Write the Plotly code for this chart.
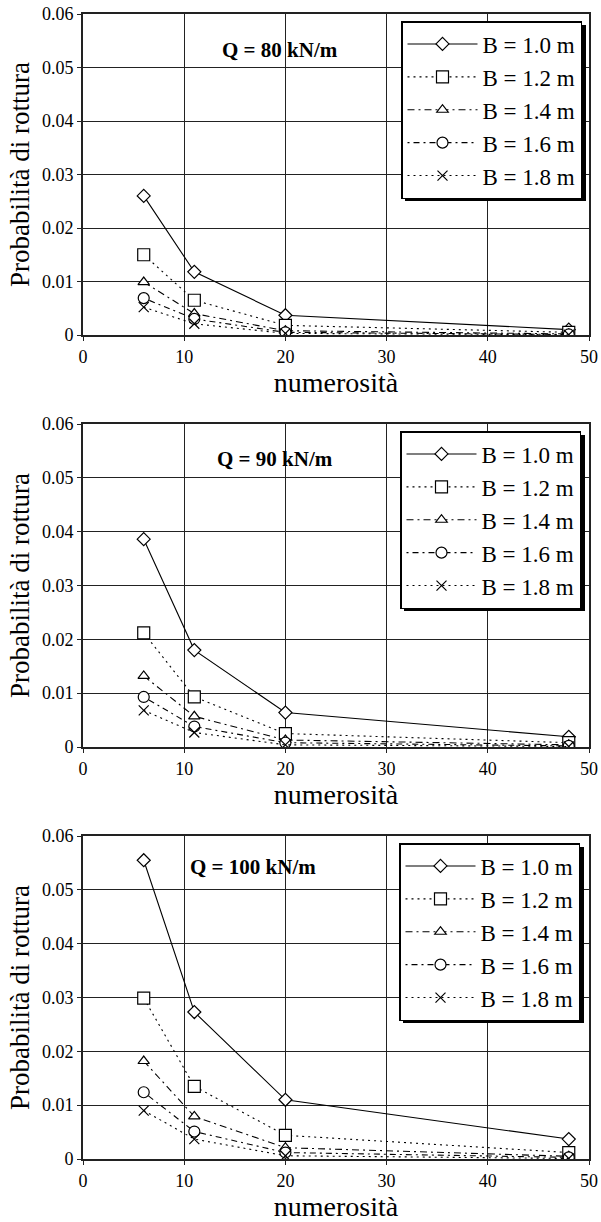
import plotly.graph_objects as go

# ---------------- data ----------------
numerosita = [6, 11, 20, 48]
series_names = ["B = 1.0 m", "B = 1.2 m", "B = 1.4 m", "B = 1.6 m", "B = 1.8 m"]
panel_titles = ["Q = 80 kN/m", "Q = 90 kN/m", "Q = 100 kN/m"]

q80_b10 = [0.0260, 0.0118, 0.0037, 0.0010]
q80_b12 = [0.0150, 0.0065, 0.0018, 0.0005]
q80_b14 = [0.0099, 0.0040, 0.0008, 0.0002]
q80_b16 = [0.0069, 0.0030, 0.0005, 0.0001]
q80_b18 = [0.0052, 0.0021, 0.0003, 0.00005]

q90_b10 = [0.0386, 0.0180, 0.0064, 0.0019]
q90_b12 = [0.0212, 0.0093, 0.0025, 0.0008]
q90_b14 = [0.0132, 0.0057, 0.0013, 0.0004]
q90_b16 = [0.0093, 0.0038, 0.0008, 0.0002]
q90_b18 = [0.0068, 0.0027, 0.0004, 0.0001]

q100_b10 = [0.0555, 0.0273, 0.0110, 0.0037]
q100_b12 = [0.0299, 0.0135, 0.0044, 0.0012]
q100_b14 = [0.0182, 0.0079, 0.0021, 0.0005]
q100_b16 = [0.0124, 0.0051, 0.0012, 0.0003]
q100_b18 = [0.0090, 0.0037, 0.0006, 0.0001]

panels = [
    [q80_b10, q80_b12, q80_b14, q80_b16, q80_b18],
    [q90_b10, q90_b12, q90_b14, q90_b16, q90_b18],
    [q100_b10, q100_b12, q100_b14, q100_b16, q100_b18],
]

x_ticks = [0, 10, 20, 30, 40, 50]
y_ticks = [0, 0.01, 0.02, 0.03, 0.04, 0.05, 0.06]
y_ticklabels = ["0", "0.01", "0.02", "0.03", "0.04", "0.05", "0.06"]

# ---------------- styles ----------------
FONT = "Liberation Serif, Times New Roman, serif"
symbols = ["diamond", "square", "triangle-up", "circle", "x-thin-open"]
mfill = ["white", "white", "white", "white", "black"]
msizes = [10, 12, 10, 11, 10]
dashes = ["solid", "2px,4px", "7px,4px,2px,4px", "2px,4px,6px,4px", "2px,4px"]

W, H = 601, 1222
ML, MR, MT, MB = 83, 12, 14, 63
PW = W - ML - MR
PH = H - MT - MB

def ypx(p):  # pixel (from top) -> paper y
    return (H - MB - p) / PH

def xpx(p):
    return (p - ML) / PW

panel_px = [(14, 335), (424, 747), (836, 1159)]
legend_anchor = [(582, 21), (581, 431), (580, 843)]  # right edge, top edge (px)
LEG_W, LEG_H, SH = 181, 176, 4
title_pos = [(13.5, 0.0533), (13.0, 0.0535), (10.4, 0.0542)]

fig = go.Figure()
layout = dict(
    template="none",
    width=W, height=H,
    margin=dict(l=ML, r=MR, t=MT, b=MB, autoexpand=False),
    plot_bgcolor="white", paper_bgcolor="white",
    font=dict(family=FONT, color="black", size=18),
    showlegend=True,
    annotations=[], shapes=[],
)

for pi, series in enumerate(panels):
    idx = "" if pi == 0 else str(pi + 1)
    xa = "x" + idx
    ya = "y" + idx
    leg = "legend" + idx
    for si, vals in enumerate(series):
        fig.add_trace(go.Scatter(
            x=numerosita, y=vals, mode="lines+markers", name=series_names[si],
            xaxis=xa, yaxis=ya, legend=leg,
            line=dict(color="black", width=1.1, dash=dashes[si]),
            marker=dict(symbol=symbols[si], size=msizes[si], color=mfill[si],
                        line=dict(color="black", width=1.2)),
        ))
    top, bot = panel_px[pi]
    layout["xaxis" + idx] = dict(
        domain=[0, 1], anchor=ya, range=[0, 50], tickvals=x_ticks,
        automargin=False,
        showgrid=True, gridcolor="#222", gridwidth=1,
        showline=True, linecolor="#222", linewidth=2, mirror=True,
        ticks="outside", ticklen=4, tickcolor="#222",
        tickfont=dict(size=18, family=FONT), zeroline=False,
        title=dict(text="numerosità", font=dict(size=28, family=FONT), standoff=0),
    )
    layout["yaxis" + idx] = dict(
        domain=[ypx(bot), ypx(top)], anchor=xa, range=[0, 0.06],
        automargin=False,
        tickvals=y_ticks, ticktext=y_ticklabels,
        showgrid=True, gridcolor="#222", gridwidth=1,
        showline=True, linecolor="#222", linewidth=2, mirror=True,
        ticks="outside", ticklen=4, tickcolor="#222",
        tickfont=dict(size=18, family=FONT), zeroline=False,
        title=dict(text="Probabilità di rottura", font=dict(size=27, family=FONT), standoff=4),
    )
    rx, ty0 = legend_anchor[pi]
    layout[leg] = dict(
        x=xpx(rx), y=ypx(ty0), xanchor="right", yanchor="top",
        bgcolor="white", bordercolor="black", borderwidth=1.5,
        font=dict(size=23, family=FONT), tracegroupgap=0,
        itemwidth=70,
    )
    # legend drop shadow (right and bottom strips)
    lx0, lx1 = rx - LEG_W, rx
    ly0, ly1 = ty0, ty0 + LEG_H
    layout["shapes"].append(dict(
        type="rect", xref="paper", yref="paper",
        x0=xpx(lx0 + SH), x1=xpx(lx1 + SH), y0=ypx(ly1 + SH), y1=ypx(ly1),
        fillcolor="black", line=dict(width=0), layer="above",
    ))
    layout["shapes"].append(dict(
        type="rect", xref="paper", yref="paper",
        x0=xpx(lx1), x1=xpx(lx1 + SH), y0=ypx(ly1 + SH), y1=ypx(ly0 + SH),
        fillcolor="black", line=dict(width=0), layer="above",
    ))
    tx, ty = title_pos[pi]
    layout["annotations"].append(dict(
        text="<b>" + panel_titles[pi] + "</b>", x=tx, y=ty, xref=xa, yref=ya,
        xanchor="left", yanchor="middle", showarrow=False,
        font=dict(size=21, family=FONT),
    ))

fig.update_layout(**layout)
fig.write_html("out.html")
